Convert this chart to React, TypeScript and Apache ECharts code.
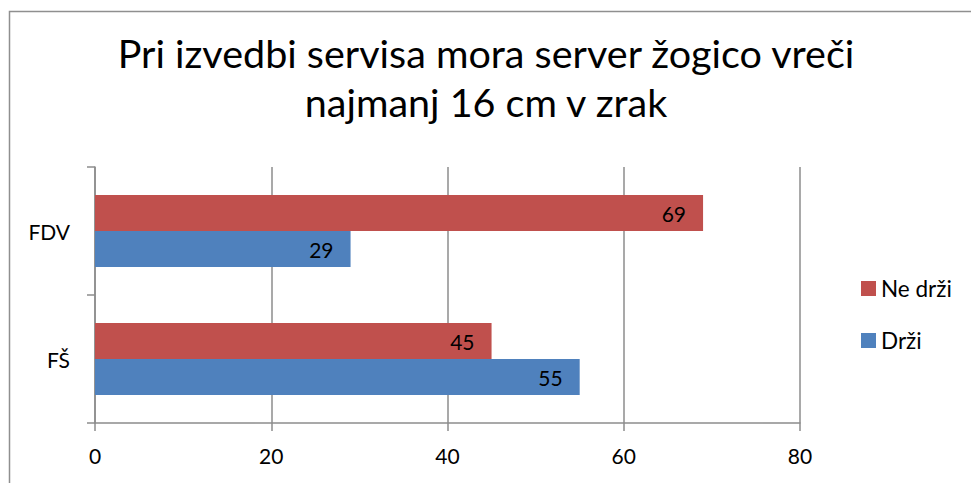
import React, { useEffect, useRef } from "react";
import * as echarts from "echarts";

const titleLines = ["Pri izvedbi servisa mora server žogico vreči", "najmanj 16 cm v zrak"];
const categories = ["FŠ", "FDV"];
const seriesNames = ["Ne drži", "Drži"];
const neDrziValues = [45, 69];
const drziValues = [55, 29];
const xTicks = { min: 0, max: 80, interval: 20 };

const FONT = "Lato, 'Open Sans', sans-serif";

export default function App() {
  const ref = useRef<HTMLDivElement>(null);
  useEffect(() => {
    document.body.style.margin = "0";
    const chart = echarts.init(ref.current!, undefined, { renderer: "svg" });
    const labelStyle = {
      show: true,
      position: "insideRight",
      distance: 17,
      fontFamily: FONT,
      fontSize: 21,
      color: "#000",
    };
    chart.setOption({
      animation: false,
      backgroundColor: "#ffffff",
      textStyle: { fontFamily: FONT },
      graphic: [
        {
          type: "rect",
          shape: { x: 9.5, y: 11.5, width: 1000, height: 520 },
          style: { fill: "none", stroke: "#8f8f8f", lineWidth: 1.5 },
          silent: true,
        },
      ],
      title: {
        text: titleLines.join("\n"),
        left: 481,
        textAlign: "center",
        top: 23,
        textStyle: {
          fontFamily: FONT,
          fontSize: 39.5,
          fontWeight: "normal",
          color: "#000",
          lineHeight: 49,
        },
      },
      legend: {
        orient: "vertical",
        left: 856,
        top: 272,
        itemWidth: 15,
        itemHeight: 15,
        itemGap: 29,
        data: [seriesNames[0], seriesNames[1]],
        textStyle: { fontFamily: FONT, fontSize: 22.5, color: "#000" },
        icon: "rect",
      },
      grid: { left: 95, right: 171, top: 167, bottom: 60 },
      xAxis: {
        type: "value",
        min: xTicks.min,
        max: xTicks.max,
        interval: xTicks.interval,
        axisLine: { show: true, lineStyle: { color: "#8c8c8c", width: 1.5 } },
        axisTick: { show: true, length: 8, lineStyle: { color: "#8c8c8c", width: 1.5 } },
        splitLine: { show: true, lineStyle: { color: "#8c8c8c", width: 1.5 } },
        axisLabel: { fontFamily: FONT, fontSize: 21, color: "#000", margin: 22 },
      },
      yAxis: {
        type: "category",
        data: categories,
        axisLine: { show: true, lineStyle: { color: "#8c8c8c", width: 1.5 } },
        axisTick: { show: true, length: 8, lineStyle: { color: "#8c8c8c", width: 1.5 } },
        axisLabel: { fontFamily: FONT, fontSize: 21, color: "#000", margin: 25 },
      },
      series: [
        {
          name: seriesNames[0],
          type: "bar",
          data: neDrziValues,
          barWidth: 36,
          barGap: "0%",
          itemStyle: { color: "#C0504D" },
          label: labelStyle,
        },
        {
          name: seriesNames[1],
          type: "bar",
          data: drziValues,
          barWidth: 36,
          barGap: "0%",
          itemStyle: { color: "#4F81BD" },
          label: labelStyle,
        },
      ],
    });
    return () => chart.dispose();
  }, []);
  return <div ref={ref} style={{ width: 971, height: 483 }} />;
}
